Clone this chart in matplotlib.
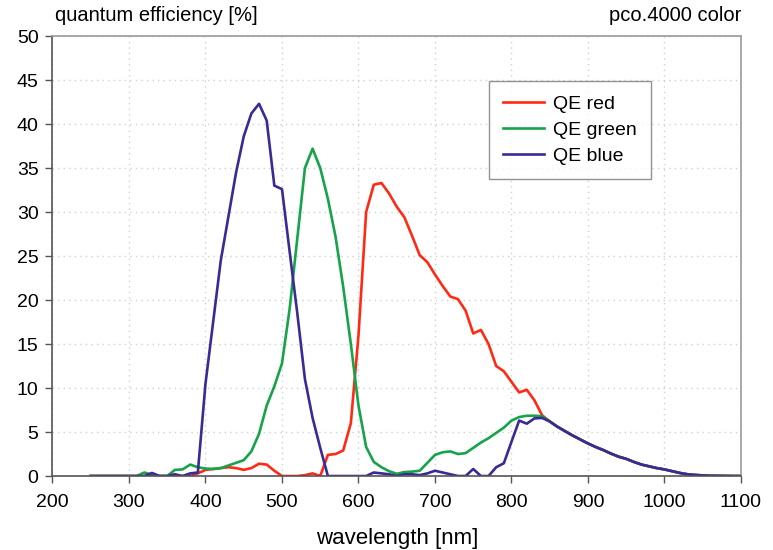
import matplotlib
matplotlib.use("Agg")
import matplotlib.pyplot as plt

plt.rcParams['font.family'] = ['Liberation Sans', 'DejaVu Sans']

wavelength = list(range(250, 1101, 10))

tail = [6.2, 5.6, 5.1, 4.6, 4.15, 3.7, 3.3, 2.95, 2.55, 2.2, 1.95, 1.6, 1.3, 1.1,
        0.9, 0.75, 0.55, 0.35, 0.2, 0.12, 0.07, 0.03, 0.02, 0.01, 0.0, 0.0]  # 850..1100

qe_red = ([0.0] * 14 +                                   # 250..380
          [0.3, 0.7, 0.8, 0.9, 1.0, 0.9, 0.7, 0.9, 1.4, 1.3, 0.6,   # 390..490
           0.0, 0.0, 0.0, 0.1, 0.3, 0.0, 2.4, 2.5, 2.9, 6.0,       # 500..590
           16.0, 30.0, 33.1, 33.3, 32.1, 30.6, 29.4, 27.3, 25.1, 24.3,  # 600..690
           22.9, 21.6, 20.4, 20.1, 18.8, 16.2, 16.6, 15.0, 12.5, 11.9,  # 700..790
           10.7, 9.5, 9.8, 8.6, 6.9] + tail)                 # 800..840

qe_green = ([0.0] * 7 +                                   # 250..310
            [0.4, 0.15, 0.0, 0.0, 0.7, 0.75, 1.3, 1.0,    # 320..390
             0.85, 0.8, 0.9, 1.2, 1.5, 1.8, 2.8, 4.8, 8.0, 10.2,   # 400..490
             12.8, 19.0, 27.0, 35.0, 37.2, 35.0, 31.5, 27.2, 21.5, 15.0,  # 500..590
             8.0, 3.3, 1.6, 1.0, 0.55, 0.25, 0.45, 0.5, 0.6, 1.5,  # 600..690
             2.4, 2.7, 2.8, 2.5, 2.6, 3.2, 3.8, 4.3, 4.9, 5.5,     # 700..790
             6.3, 6.7, 6.85, 6.85, 6.8] + tail)                 # 800..840

qe_blue = ([0.0] * 8 +                                    # 250..320
           [0.35, 0.0, 0.0, 0.2, 0.0, 0.3, 0.4,           # 330..390
            10.5, 17.5, 24.5, 29.5, 34.5, 38.6, 41.2, 42.3, 40.4, 33.0,  # 400..490
            32.6, 25.5, 18.5, 11.0, 6.6, 3.2, 0.0, 0.0, 0.0, 0.0,        # 500..590
            0.0, 0.0, 0.4, 0.3, 0.2, 0.0, 0.2, 0.2, 0.1, 0.3,            # 600..690
            0.6, 0.4, 0.2, 0.0, 0.0, 0.8, 0.0, 0.0, 1.0, 1.45,           # 700..790
            3.9, 6.3, 5.95, 6.55, 6.6] + tail)                 # 800..840

series_labels = ["QE red", "QE green", "QE blue"]
series_colors = ["#ff2a14", "#16a34a", "#3a2a96"]

x_ticks = list(range(200, 1101, 100))
y_ticks = list(range(0, 51, 5))

fig = plt.figure(figsize=(7.73, 5.5), dpi=100)
ax = fig.add_axes([0.0679, 0.1345, 0.8907, 0.8])

for vals, lab, col in zip([qe_red, qe_green, qe_blue], series_labels, series_colors):
    ax.plot(wavelength, vals, color=col, lw=1.9, label=lab, solid_joinstyle='round')

ax.set_xlim(200, 1100)
ax.set_ylim(0, 50)
ax.set_xticks(x_ticks)
ax.set_yticks(y_ticks)
ax.tick_params(axis='both', labelsize=14, direction='out', length=5, width=1,
               color='#555555', pad=5)
ax.tick_params(axis='x', pad=8)
ax.grid(True, color='#d0d0d0', linestyle=(0, (1, 3)), linewidth=1)

for side in ['top', 'right']:
    ax.spines[side].set_color('#9a9a9a')
    ax.spines[side].set_linewidth(1.2)
for side in ['left', 'bottom']:
    ax.spines[side].set_color('#555555')
    ax.spines[side].set_linewidth(1.2)

ax.set_xlabel("wavelength [nm]", fontsize=16, labelpad=12)

fig.text(0.071, 0.972, "quantum efficiency [%]", fontsize=14.5, ha='left', va='center')
fig.text(0.9586, 0.972, "pco.4000 color", fontsize=14.5, ha='right', va='center')

leg = ax.legend(loc='upper left', bbox_to_anchor=(0.634, 0.897), fontsize=14,
                frameon=True, fancybox=False, edgecolor='#777777',
                handlelength=2.15, handletextpad=0.45, borderpad=0.7,
                labelspacing=0.45, borderaxespad=0)
leg.get_frame().set_linewidth(1.0)
for line in leg.get_lines():
    line.set_linewidth(1.9)

fig.savefig("out.png", dpi=100)
